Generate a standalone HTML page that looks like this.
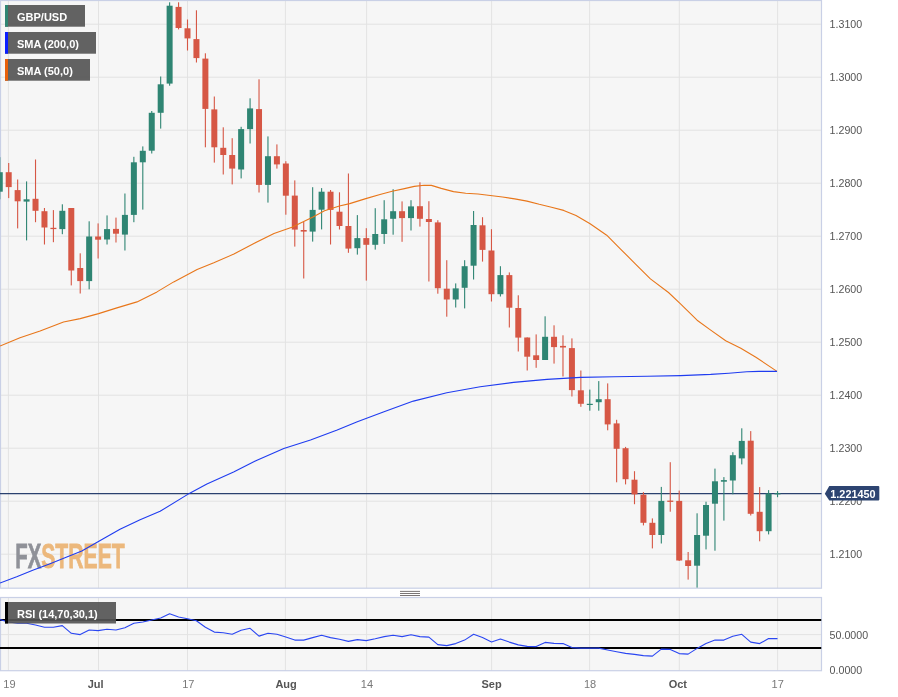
<!DOCTYPE html>
<html><head><meta charset="utf-8"><title>GBP/USD</title>
<style>
html,body{margin:0;padding:0;background:#fff;}
body{width:898px;height:697px;overflow:hidden;position:relative;font-family:"Liberation Sans",Arial,sans-serif;}
svg{position:absolute;left:0;top:0;}
.ax{font-size:11px;fill:#555;}
.axl{font-size:11px;fill:#787878;}
.axb{font-size:11px;fill:#555;font-weight:bold;}
.lbl{font-size:11px;font-weight:bold;fill:#fff;}
</style></head><body>
<svg width="898" height="697" viewBox="0 0 898 697">
<defs><clipPath id="cm"><rect x="0" y="0" width="821.5" height="588.2"/></clipPath><clipPath id="cr"><rect x="0" y="597.5" width="821.5" height="73.20000000000005"/></clipPath></defs>
<rect x="0" y="0" width="821.5" height="588.2" fill="#f6f6f6"/>
<rect x="0" y="597.5" width="821.5" height="73.20000000000005" fill="#f6f6f6"/>

<g stroke="#e3e3e3" stroke-width="1" shape-rendering="auto">
<line x1="8.4" y1="0.5" x2="8.4" y2="588.2"/><line x1="8.4" y1="597.5" x2="8.4" y2="670.7"/>
<line x1="98.5" y1="0.5" x2="98.5" y2="588.2"/><line x1="98.5" y1="597.5" x2="98.5" y2="670.7"/>
<line x1="187.5" y1="0.5" x2="187.5" y2="588.2"/><line x1="187.5" y1="597.5" x2="187.5" y2="670.7"/>
<line x1="285.4" y1="0.5" x2="285.4" y2="588.2"/><line x1="285.4" y1="597.5" x2="285.4" y2="670.7"/>
<line x1="366.6" y1="0.5" x2="366.6" y2="588.2"/><line x1="366.6" y1="597.5" x2="366.6" y2="670.7"/>
<line x1="491.6" y1="0.5" x2="491.6" y2="588.2"/><line x1="491.6" y1="597.5" x2="491.6" y2="670.7"/>
<line x1="589.6" y1="0.5" x2="589.6" y2="588.2"/><line x1="589.6" y1="597.5" x2="589.6" y2="670.7"/>
<line x1="679.3" y1="0.5" x2="679.3" y2="588.2"/><line x1="679.3" y1="597.5" x2="679.3" y2="670.7"/>
<line x1="777.6" y1="0.5" x2="777.6" y2="588.2"/><line x1="777.6" y1="597.5" x2="777.6" y2="670.7"/>
<line x1="0" y1="24.2" x2="821.5" y2="24.2"/>
<line x1="0" y1="77.2" x2="821.5" y2="77.2"/>
<line x1="0" y1="130.2" x2="821.5" y2="130.2"/>
<line x1="0" y1="183.2" x2="821.5" y2="183.2"/>
<line x1="0" y1="236.2" x2="821.5" y2="236.2"/>
<line x1="0" y1="289.2" x2="821.5" y2="289.2"/>
<line x1="0" y1="342.2" x2="821.5" y2="342.2"/>
<line x1="0" y1="395.2" x2="821.5" y2="395.2"/>
<line x1="0" y1="448.2" x2="821.5" y2="448.2"/>
<line x1="0" y1="501.2" x2="821.5" y2="501.2"/>
<line x1="0" y1="554.2" x2="821.5" y2="554.2"/>
<line x1="0" y1="634.6" x2="821.5" y2="634.6"/>
</g>
<g id="logo" opacity="1"><text x="15.3" y="568.1" font-size="35.5" font-weight="bold" textLength="26" lengthAdjust="spacingAndGlyphs" fill="#8f9198" stroke="#8f9198" stroke-width="0.8">FX</text><text x="41.2" y="568.1" font-size="35.5" font-weight="bold" textLength="83.5" lengthAdjust="spacingAndGlyphs" fill="#ecb87c" stroke="#ecb87c" stroke-width="0.8">STREET</text></g>
<rect x="0.5" y="0.5" width="821.0" height="587.7" fill="none" stroke="#c9d0e6" stroke-width="1.2"/>
<rect x="0.5" y="597.5" width="821.0" height="73.20000000000005" fill="none" stroke="#c9d0e6" stroke-width="1.2"/>
<line x1="0" y1="493.7" x2="821.5" y2="493.7" stroke="#2a416f" stroke-width="1.3"/>
<g clip-path="url(#cm)">
<rect x="-0.79" y="157.2" width="1.1" height="42.1" fill="#2f8573"/><rect x="-3.24" y="172.2" width="6" height="19.5" fill="#2f8573"/>
<rect x="8.15" y="163.0" width="1.1" height="35.1" fill="#d65745"/><rect x="5.70" y="172.2" width="6" height="14.9" fill="#d65745"/>
<rect x="17.09" y="179.5" width="1.1" height="48.9" fill="#d65745"/><rect x="14.64" y="190.1" width="6" height="11.2" fill="#d65745"/>
<rect x="26.03" y="181.4" width="1.1" height="59.0" fill="#2f8573"/><rect x="23.58" y="199.3" width="6" height="2.3" fill="#2f8573"/>
<rect x="34.97" y="159.5" width="1.1" height="62.7" fill="#d65745"/><rect x="32.52" y="198.8" width="6" height="12.0" fill="#d65745"/>
<rect x="43.91" y="208.0" width="1.1" height="36.5" fill="#d65745"/><rect x="41.46" y="211.2" width="6" height="16.3" fill="#d65745"/>
<rect x="52.85" y="210.1" width="1.1" height="32.1" fill="#d65745"/><rect x="50.40" y="227.8" width="6" height="1.3" fill="#d65745"/>
<rect x="61.79" y="204.3" width="1.1" height="29.9" fill="#2f8573"/><rect x="59.34" y="210.8" width="6" height="18.3" fill="#2f8573"/>
<rect x="70.73" y="208.0" width="1.1" height="77.4" fill="#d65745"/><rect x="68.28" y="208.0" width="6" height="62.5" fill="#d65745"/>
<rect x="79.67" y="253.3" width="1.1" height="40.2" fill="#d65745"/><rect x="77.22" y="268.0" width="6" height="13.1" fill="#d65745"/>
<rect x="88.61" y="221.3" width="1.1" height="68.0" fill="#2f8573"/><rect x="86.16" y="236.5" width="6" height="44.6" fill="#2f8573"/>
<rect x="97.55" y="223.4" width="1.1" height="35.1" fill="#d65745"/><rect x="95.10" y="236.5" width="6" height="3.2" fill="#d65745"/>
<rect x="106.49" y="215.4" width="1.1" height="29.1" fill="#2f8573"/><rect x="104.04" y="229.1" width="6" height="10.4" fill="#2f8573"/>
<rect x="115.43" y="217.6" width="1.1" height="24.9" fill="#d65745"/><rect x="112.98" y="228.9" width="6" height="4.8" fill="#d65745"/>
<rect x="124.37" y="193.5" width="1.1" height="57.0" fill="#2f8573"/><rect x="121.92" y="214.9" width="6" height="19.7" fill="#2f8573"/>
<rect x="133.31" y="156.8" width="1.1" height="65.4" fill="#2f8573"/><rect x="130.86" y="162.3" width="6" height="52.6" fill="#2f8573"/>
<rect x="142.25" y="146.4" width="1.1" height="63.2" fill="#2f8573"/><rect x="139.80" y="150.8" width="6" height="11.5" fill="#2f8573"/>
<rect x="151.19" y="111.0" width="1.1" height="42.5" fill="#2f8573"/><rect x="148.74" y="112.8" width="6" height="37.9" fill="#2f8573"/>
<rect x="160.13" y="76.5" width="1.1" height="52.1" fill="#2f8573"/><rect x="157.68" y="84.3" width="6" height="28.5" fill="#2f8573"/>
<rect x="169.07" y="2.3" width="1.1" height="83.4" fill="#2f8573"/><rect x="166.62" y="5.7" width="6" height="77.9" fill="#2f8573"/>
<rect x="178.01" y="2.3" width="1.1" height="27.1" fill="#d65745"/><rect x="175.56" y="6.9" width="6" height="21.1" fill="#d65745"/>
<rect x="186.95" y="19.5" width="1.1" height="31.0" fill="#d65745"/><rect x="184.50" y="28.3" width="6" height="10.1" fill="#d65745"/>
<rect x="195.89" y="10.3" width="1.1" height="52.2" fill="#d65745"/><rect x="193.44" y="39.1" width="6" height="19.0" fill="#d65745"/>
<rect x="204.83" y="53.3" width="1.1" height="94.0" fill="#d65745"/><rect x="202.38" y="58.6" width="6" height="50.3" fill="#d65745"/>
<rect x="213.77" y="96.5" width="1.1" height="66.1" fill="#d65745"/><rect x="211.32" y="109.4" width="6" height="37.9" fill="#d65745"/>
<rect x="222.71" y="127.3" width="1.1" height="47.2" fill="#d65745"/><rect x="220.26" y="147.8" width="6" height="7.2" fill="#d65745"/>
<rect x="231.65" y="138.2" width="1.1" height="46.2" fill="#d65745"/><rect x="229.20" y="155.0" width="6" height="13.6" fill="#d65745"/>
<rect x="240.59" y="126.8" width="1.1" height="51.6" fill="#2f8573"/><rect x="238.14" y="129.1" width="6" height="40.4" fill="#2f8573"/>
<rect x="249.53" y="98.3" width="1.1" height="45.2" fill="#2f8573"/><rect x="247.08" y="108.4" width="6" height="20.7" fill="#2f8573"/>
<rect x="258.47" y="79.3" width="1.1" height="113.2" fill="#d65745"/><rect x="256.02" y="109.1" width="6" height="75.8" fill="#d65745"/>
<rect x="267.41" y="136.4" width="1.1" height="66.2" fill="#2f8573"/><rect x="264.96" y="156.2" width="6" height="28.7" fill="#2f8573"/>
<rect x="276.35" y="144.4" width="1.1" height="24.2" fill="#d65745"/><rect x="273.90" y="156.2" width="6" height="8.2" fill="#d65745"/>
<rect x="285.29" y="161.2" width="1.1" height="53.5" fill="#d65745"/><rect x="282.84" y="163.5" width="6" height="32.2" fill="#d65745"/>
<rect x="294.23" y="180.4" width="1.1" height="66.2" fill="#d65745"/><rect x="291.78" y="195.6" width="6" height="34.0" fill="#d65745"/>
<rect x="303.17" y="222.0" width="1.1" height="56.5" fill="#d65745"/><rect x="300.72" y="230.0" width="6" height="1.6" fill="#d65745"/>
<rect x="312.11" y="187.2" width="1.1" height="54.4" fill="#2f8573"/><rect x="309.66" y="209.9" width="6" height="21.7" fill="#2f8573"/>
<rect x="321.05" y="188.1" width="1.1" height="41.3" fill="#2f8573"/><rect x="318.60" y="191.7" width="6" height="18.0" fill="#2f8573"/>
<rect x="329.99" y="190.0" width="1.1" height="54.5" fill="#d65745"/><rect x="327.54" y="191.7" width="6" height="18.2" fill="#d65745"/>
<rect x="338.93" y="192.3" width="1.1" height="37.2" fill="#d65745"/><rect x="336.48" y="211.7" width="6" height="14.3" fill="#d65745"/>
<rect x="347.87" y="173.5" width="1.1" height="79.3" fill="#d65745"/><rect x="345.42" y="226.0" width="6" height="22.6" fill="#d65745"/>
<rect x="356.81" y="215.1" width="1.1" height="39.5" fill="#2f8573"/><rect x="354.36" y="238.1" width="6" height="10.1" fill="#2f8573"/>
<rect x="365.75" y="228.2" width="1.1" height="52.4" fill="#d65745"/><rect x="363.30" y="238.1" width="6" height="6.7" fill="#d65745"/>
<rect x="374.69" y="208.2" width="1.1" height="41.4" fill="#2f8573"/><rect x="372.24" y="234.0" width="6" height="10.8" fill="#2f8573"/>
<rect x="383.63" y="200.2" width="1.1" height="43.7" fill="#2f8573"/><rect x="381.18" y="219.3" width="6" height="14.7" fill="#2f8573"/>
<rect x="392.57" y="189.2" width="1.1" height="45.5" fill="#2f8573"/><rect x="390.12" y="211.2" width="6" height="7.6" fill="#2f8573"/>
<rect x="401.51" y="201.4" width="1.1" height="40.4" fill="#d65745"/><rect x="399.06" y="211.2" width="6" height="6.9" fill="#d65745"/>
<rect x="410.45" y="200.2" width="1.1" height="30.3" fill="#2f8573"/><rect x="408.00" y="206.4" width="6" height="11.7" fill="#2f8573"/>
<rect x="419.39" y="182.3" width="1.1" height="44.3" fill="#d65745"/><rect x="416.94" y="206.2" width="6" height="12.6" fill="#d65745"/>
<rect x="428.33" y="201.2" width="1.1" height="80.3" fill="#d65745"/><rect x="425.88" y="219.0" width="6" height="3.0" fill="#d65745"/>
<rect x="437.27" y="220.2" width="1.1" height="73.5" fill="#d65745"/><rect x="434.82" y="222.4" width="6" height="65.8" fill="#d65745"/>
<rect x="446.21" y="260.2" width="1.1" height="56.5" fill="#d65745"/><rect x="443.76" y="288.7" width="6" height="10.8" fill="#d65745"/>
<rect x="455.15" y="283.4" width="1.1" height="24.1" fill="#2f8573"/><rect x="452.70" y="288.4" width="6" height="11.1" fill="#2f8573"/>
<rect x="464.09" y="260.2" width="1.1" height="48.2" fill="#2f8573"/><rect x="461.64" y="266.2" width="6" height="21.6" fill="#2f8573"/>
<rect x="473.03" y="211.0" width="1.1" height="68.5" fill="#2f8573"/><rect x="470.58" y="225.0" width="6" height="40.7" fill="#2f8573"/>
<rect x="481.97" y="217.2" width="1.1" height="44.4" fill="#d65745"/><rect x="479.52" y="225.3" width="6" height="24.6" fill="#d65745"/>
<rect x="490.91" y="229.2" width="1.1" height="72.3" fill="#d65745"/><rect x="488.46" y="250.5" width="6" height="43.7" fill="#d65745"/>
<rect x="499.85" y="266.2" width="1.1" height="30.3" fill="#2f8573"/><rect x="497.40" y="275.1" width="6" height="19.1" fill="#2f8573"/>
<rect x="508.79" y="272.4" width="1.1" height="55.1" fill="#d65745"/><rect x="506.34" y="275.1" width="6" height="32.6" fill="#d65745"/>
<rect x="517.73" y="295.3" width="1.1" height="56.2" fill="#d65745"/><rect x="515.28" y="308.0" width="6" height="29.6" fill="#d65745"/>
<rect x="526.67" y="337.4" width="1.1" height="33.1" fill="#d65745"/><rect x="524.22" y="337.5" width="6" height="19.2" fill="#d65745"/>
<rect x="535.61" y="334.4" width="1.1" height="33.4" fill="#d65745"/><rect x="533.16" y="355.3" width="6" height="4.7" fill="#d65745"/>
<rect x="544.55" y="316.3" width="1.1" height="43.7" fill="#2f8573"/><rect x="542.10" y="336.8" width="6" height="23.2" fill="#2f8573"/>
<rect x="553.49" y="325.3" width="1.1" height="38.3" fill="#d65745"/><rect x="551.04" y="336.8" width="6" height="10.3" fill="#d65745"/>
<rect x="562.43" y="335.3" width="1.1" height="41.2" fill="#d65745"/><rect x="559.98" y="345.9" width="6" height="1.6" fill="#d65745"/>
<rect x="571.37" y="338.4" width="1.1" height="58.1" fill="#d65745"/><rect x="568.92" y="348.1" width="6" height="42.0" fill="#d65745"/>
<rect x="580.31" y="370.5" width="1.1" height="36.3" fill="#d65745"/><rect x="577.86" y="390.3" width="6" height="13.5" fill="#d65745"/>
<rect x="589.25" y="389.6" width="1.1" height="21.1" fill="#2f8573"/><rect x="586.80" y="403.8" width="6" height="1.2" fill="#2f8573"/>
<rect x="598.19" y="381.1" width="1.1" height="29.6" fill="#2f8573"/><rect x="595.74" y="399.2" width="6" height="3.0" fill="#2f8573"/>
<rect x="607.13" y="383.4" width="1.1" height="46.9" fill="#d65745"/><rect x="604.68" y="399.2" width="6" height="25.2" fill="#d65745"/>
<rect x="616.07" y="419.8" width="1.1" height="62.5" fill="#d65745"/><rect x="613.62" y="423.4" width="6" height="25.4" fill="#d65745"/>
<rect x="625.01" y="446.9" width="1.1" height="37.5" fill="#d65745"/><rect x="622.56" y="448.2" width="6" height="31.0" fill="#d65745"/>
<rect x="633.95" y="471.2" width="1.1" height="33.0" fill="#d65745"/><rect x="631.50" y="479.7" width="6" height="14.7" fill="#d65745"/>
<rect x="642.89" y="492.1" width="1.1" height="33.3" fill="#d65745"/><rect x="640.44" y="494.7" width="6" height="28.1" fill="#d65745"/>
<rect x="651.83" y="518.4" width="1.1" height="30.0" fill="#d65745"/><rect x="649.38" y="522.8" width="6" height="12.2" fill="#d65745"/>
<rect x="660.77" y="486.9" width="1.1" height="56.6" fill="#2f8573"/><rect x="658.32" y="500.9" width="6" height="34.1" fill="#2f8573"/>
<rect x="669.71" y="462.2" width="1.1" height="49.5" fill="#d65745"/><rect x="667.26" y="500.6" width="6" height="1.3" fill="#d65745"/>
<rect x="678.65" y="490.6" width="1.1" height="70.4" fill="#d65745"/><rect x="676.20" y="500.9" width="6" height="59.6" fill="#d65745"/>
<rect x="687.59" y="552.0" width="1.1" height="27.6" fill="#d65745"/><rect x="685.14" y="560.3" width="6" height="5.7" fill="#d65745"/>
<rect x="696.53" y="513.3" width="1.1" height="74.3" fill="#2f8573"/><rect x="694.08" y="535.0" width="6" height="30.7" fill="#2f8573"/>
<rect x="705.47" y="501.7" width="1.1" height="47.7" fill="#2f8573"/><rect x="703.02" y="505.0" width="6" height="30.7" fill="#2f8573"/>
<rect x="714.41" y="468.6" width="1.1" height="82.1" fill="#2f8573"/><rect x="711.96" y="481.3" width="6" height="22.4" fill="#2f8573"/>
<rect x="723.35" y="477.1" width="1.1" height="43.5" fill="#2f8573"/><rect x="720.90" y="480.1" width="6" height="1.6" fill="#2f8573"/>
<rect x="732.29" y="452.2" width="1.1" height="42.1" fill="#2f8573"/><rect x="729.84" y="455.2" width="6" height="25.3" fill="#2f8573"/>
<rect x="741.23" y="428.3" width="1.1" height="36.1" fill="#2f8573"/><rect x="738.78" y="440.9" width="6" height="17.5" fill="#2f8573"/>
<rect x="750.17" y="431.1" width="1.1" height="84.4" fill="#d65745"/><rect x="747.72" y="440.7" width="6" height="73.1" fill="#d65745"/>
<rect x="759.11" y="487.1" width="1.1" height="54.2" fill="#d65745"/><rect x="756.66" y="511.8" width="6" height="19.4" fill="#d65745"/>
<rect x="768.05" y="490.1" width="1.1" height="44.3" fill="#2f8573"/><rect x="765.60" y="493.5" width="6" height="37.7" fill="#2f8573"/>
<rect x="776.99" y="491.1" width="1.1" height="6.1" fill="#2f8573"/><rect x="774.54" y="493.2" width="6" height="1.2" fill="#2f8573"/>
<polyline points="0.0,346.0 20.0,337.7 40.1,331.0 63.5,322.0 80.2,318.6 98.6,313.6 116.9,307.9 137.0,301.9 157.0,291.9 173.7,281.9 197.1,269.5 213.8,262.8 233.9,254.1 253.9,243.4 274.0,233.4 291.9,227.2 313.0,217.0 324.5,210.8 339.4,206.0 349.7,203.6 365.8,198.6 380.0,194.5 392.2,191.3 404.5,188.6 414.3,186.4 424.1,185.2 431.4,185.4 441.2,188.4 453.5,191.6 465.7,193.3 478.0,194.0 490.2,195.5 502.5,197.0 514.7,198.9 527.0,201.1 539.2,204.3 551.5,207.2 563.7,210.4 576.0,215.6 590.1,223.8 606.7,235.2 620.3,248.8 635.3,263.8 650.4,278.9 668.5,292.5 680.5,303.9 697.1,320.2 710.7,330.1 725.7,340.7 740.8,348.2 755.9,357.2 777.0,371.4" fill="none" stroke="#e8761a" stroke-width="1.1" stroke-linejoin="round"/>
<polyline points="0.0,583.0 16.7,576.8 33.4,570.1 50.1,563.8 66.8,557.1 81.8,550.9 100.2,540.5 120.0,529.3 140.1,519.7 160.1,511.3 190.2,492.9 206.9,483.9 233.6,471.9 257.0,460.2 283.8,448.5 310.5,440.1 337.2,430.1 357.3,421.8 384.0,411.7 413.4,401.1 446.8,392.8 480.2,386.8 513.6,382.4 547.0,379.4 580.5,377.4 614.0,376.8 647.3,376.2 680.5,375.6 710.7,374.4 728.8,373.2 746.8,371.7 758.9,371.4 777.0,371.4" fill="none" stroke="#1f3cf0" stroke-width="1.1" stroke-linejoin="round"/>
</g>
<g clip-path="url(#cr)">
<line x1="0" y1="620" x2="821.5" y2="620" stroke="#000" stroke-width="2.2"/><line x1="0" y1="648" x2="821.5" y2="648" stroke="#000" stroke-width="2.2"/>
<polyline points="0.0,619.6 8.7,622.0 17.6,623.3 26.6,623.3 35.5,625.0 44.5,627.3 53.4,627.3 62.3,625.6 71.3,633.3 80.2,634.6 89.2,630.0 98.1,630.6 107.0,629.3 116.0,630.0 124.9,627.8 133.9,623.3 142.8,622.0 151.7,620.0 160.7,618.0 169.6,613.8 178.6,617.0 187.5,618.8 196.4,620.8 205.4,627.3 214.3,632.1 223.3,632.8 232.2,634.3 241.1,630.3 250.1,628.3 259.0,636.1 268.0,633.3 276.9,634.3 285.8,637.1 294.8,640.1 303.7,640.1 312.7,637.6 321.6,635.3 330.5,637.6 339.5,639.3 348.4,641.4 357.4,639.6 366.3,640.6 375.2,638.8 384.2,636.6 393.1,635.3 402.1,636.6 411.0,634.8 419.9,636.6 428.9,637.1 437.8,644.6 446.8,645.6 455.7,643.6 464.6,640.1 473.6,634.3 482.5,637.6 491.5,641.9 500.4,639.1 509.3,642.1 518.3,644.9 527.2,646.4 536.2,646.6 545.1,642.4 554.0,643.4 563.0,643.6 571.9,647.6 580.9,648.1 589.8,648.1 598.7,648.1 607.7,650.0 616.6,651.7 625.6,653.4 634.5,654.4 643.4,655.6 652.4,656.1 661.3,649.1 670.3,649.4 679.2,653.6 688.1,654.1 697.1,648.4 706.0,643.4 715.0,640.1 723.9,640.1 732.8,636.3 741.8,634.3 750.7,642.1 759.7,643.6 768.6,638.6 777.5,638.6" fill="none" stroke="#2a46f2" stroke-width="1.1" stroke-linejoin="round"/>
</g>
<rect x="5" y="5" width="80" height="21.7" fill="#555" fill-opacity="0.92"/><rect x="5" y="5" width="3" height="21.7" fill="#2f8573"/><text class="lbl" x="17" y="20.9">GBP/USD</text>
<rect x="5" y="32" width="91" height="21.7" fill="#555" fill-opacity="0.92"/><rect x="5" y="32" width="3" height="21.7" fill="#0a1eff"/><text class="lbl" x="17" y="47.9">SMA (200,0)</text>
<rect x="5" y="59" width="85" height="21.7" fill="#555" fill-opacity="0.92"/><rect x="5" y="59" width="3" height="21.7" fill="#e8600a"/><text class="lbl" x="17" y="74.8">SMA (50,0)</text>
<rect x="5" y="602" width="111" height="21.5" fill="#555" fill-opacity="0.92"/><rect x="5" y="602" width="3" height="21.5" fill="#000"/><text class="lbl" x="17" y="617.8">RSI (14,70,30,1)</text>
<text class="ax" x="829.6" y="28.2" textLength="32.6" lengthAdjust="spacingAndGlyphs">1.3100</text>
<text class="ax" x="829.6" y="81.2" textLength="32.6" lengthAdjust="spacingAndGlyphs">1.3000</text>
<text class="ax" x="829.6" y="134.2" textLength="32.6" lengthAdjust="spacingAndGlyphs">1.2900</text>
<text class="ax" x="829.6" y="187.2" textLength="32.6" lengthAdjust="spacingAndGlyphs">1.2800</text>
<text class="ax" x="829.6" y="240.2" textLength="32.6" lengthAdjust="spacingAndGlyphs">1.2700</text>
<text class="ax" x="829.6" y="293.2" textLength="32.6" lengthAdjust="spacingAndGlyphs">1.2600</text>
<text class="ax" x="829.6" y="346.2" textLength="32.6" lengthAdjust="spacingAndGlyphs">1.2500</text>
<text class="ax" x="829.6" y="399.2" textLength="32.6" lengthAdjust="spacingAndGlyphs">1.2400</text>
<text class="ax" x="829.6" y="452.2" textLength="32.6" lengthAdjust="spacingAndGlyphs">1.2300</text>
<text class="ax" x="829.6" y="505.2" textLength="32.6" lengthAdjust="spacingAndGlyphs">1.2200</text>
<text class="ax" x="829.6" y="558.2" textLength="32.6" lengthAdjust="spacingAndGlyphs">1.2100</text>
<text class="ax" x="829.6" y="638.6" textLength="38.5" lengthAdjust="spacingAndGlyphs">50.0000</text>
<text class="ax" x="829.6" y="674.2" textLength="32.6" lengthAdjust="spacingAndGlyphs">0.0000</text>
<path d="M824.8 493.7 L829.3 486 L878.3 486 Q879.3 486 879.3 487 L879.3 499.4 Q879.3 500.4 878.3 500.4 L829.3 500.4 Z" fill="#2d4471"/>
<text class="lbl" x="830.3" y="497.8" textLength="45.3" lengthAdjust="spacingAndGlyphs">1.221450</text>
<text class="axl" x="9.4" y="688" text-anchor="middle">19</text>
<text class="axb" x="95.6" y="688" text-anchor="middle">Jul</text>
<text class="axl" x="188.3" y="688" text-anchor="middle">17</text>
<text class="axb" x="286.1" y="688" text-anchor="middle">Aug</text>
<text class="axl" x="366.9" y="688" text-anchor="middle">14</text>
<text class="axb" x="491.6" y="688" text-anchor="middle">Sep</text>
<text class="axl" x="590" y="688" text-anchor="middle">18</text>
<text class="axb" x="677.8" y="688" text-anchor="middle">Oct</text>
<text class="axl" x="777.7" y="688" text-anchor="middle">17</text>
<g stroke="#6b6565" stroke-width="0.9"><line x1="400" y1="591.4" x2="420" y2="591.4"/><line x1="400" y1="593.5" x2="420" y2="593.5"/><line x1="400" y1="595.5" x2="420" y2="595.5"/></g>
</svg></body></html>
